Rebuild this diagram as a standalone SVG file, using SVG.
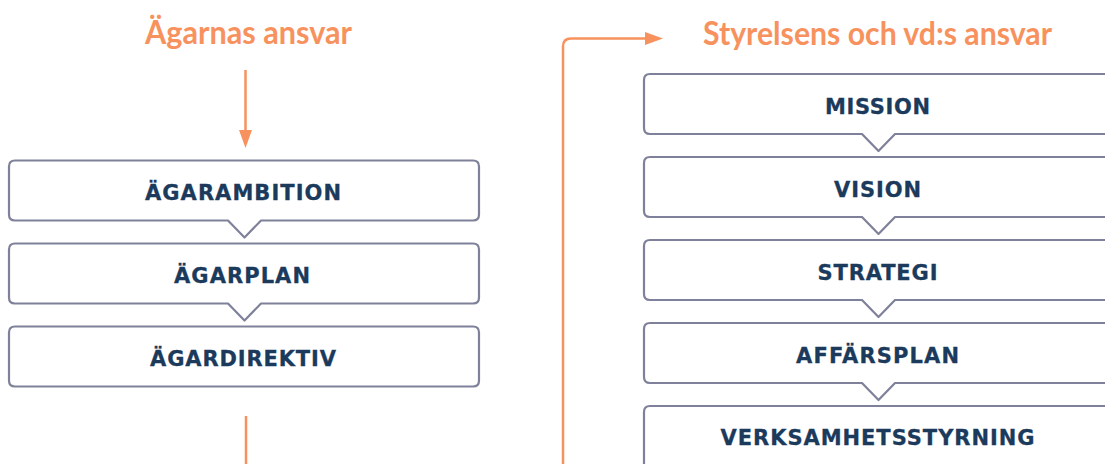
<svg xmlns="http://www.w3.org/2000/svg" width="1105" height="464" viewBox="0 0 1105 464">
  <style>
    .title { font-family: Lato, "Open Sans", "Liberation Sans", sans-serif; font-weight: 700; font-size: 32px; fill: #F7925E; }
    .box { fill: #FFFFFF; stroke: #7E8199; stroke-width: 2.2; stroke-linejoin: round; }
    .label { font-family: "DejaVu Sans", "Liberation Sans", Arial, sans-serif; font-weight: 700; font-size: 21px; fill: #1B3A5C; stroke: #1B3A5C; stroke-width: 0.3; text-anchor: middle; }
    .conn { fill: none; stroke: #F7925E; stroke-width: 2.5; }
  </style>
  <defs>
    <marker id="arrow" markerUnits="userSpaceOnUse" markerWidth="18" markerHeight="14" refX="14" refY="7" orient="auto">
      <path d="M0,0.5 L18,7 L0,13.5 Z" fill="#F7925E"/>
    </marker>
  </defs>
  <rect width="1105" height="464" fill="#FFFFFF"/>

  <g id="title-agare">
    <text class="title" x="145" y="44" textLength="207" lengthAdjust="spacingAndGlyphs">Ägarnas ansvar</text>
  </g>
  <g id="title-styrelse">
    <text class="title" x="703" y="45" textLength="349" lengthAdjust="spacingAndGlyphs">Styrelsens och vd:s ansvar</text>
  </g>

  <g id="connectors">
    <path class="conn" d="M245.5,70 V144" marker-end="url(#arrow)"/>
    <path class="conn" d="M246,416 V466"/>
    <path class="conn" d="M563,466 V46.5 Q563,38.5 571,38.5 H659" marker-end="url(#arrow)"/>
  </g>

  <g id="agarambition">
    <path class="box" d="M15,160.5 H473 Q479,160.5 479,166.5 V214.5 Q479,220.5 473,220.5 H261 L244.5,237.5 L228,220.5 H15 Q9,220.5 9,214.5 V166.5 Q9,160.5 15,160.5 Z"/>
    <text class="label" x="243" y="200" textLength="196" lengthAdjust="spacing">ÄGARAMBITION</text>
  </g>
  <g id="agarplan">
    <path class="box" d="M15,243.5 H473 Q479,243.5 479,249.5 V297.5 Q479,303.5 473,303.5 H261 L244.5,320.5 L228,303.5 H15 Q9,303.5 9,297.5 V249.5 Q9,243.5 15,243.5 Z"/>
    <text class="label" x="242" y="283" textLength="136" lengthAdjust="spacing">ÄGARPLAN</text>
  </g>
  <g id="agardirektiv">
    <path class="box" d="M15,326.5 H473 Q479,326.5 479,332.5 V380.5 Q479,386.5 473,386.5 H15 Q9,386.5 9,380.5 V332.5 Q9,326.5 15,326.5 Z"/>
    <text class="label" x="243" y="366" textLength="186" lengthAdjust="spacing">ÄGARDIREKTIV</text>
  </g>

  <g id="mission">
    <path class="box" d="M650,74 H1106 Q1112,74 1112,80 V128 Q1112,134 1106,134 H895 L878.5,151 L862,134 H650 Q644,134 644,128 V80 Q644,74 650,74 Z"/>
    <text class="label" x="877.5" y="113.5" textLength="105" lengthAdjust="spacing">MISSION</text>
  </g>
  <g id="vision">
    <path class="box" d="M650,157 H1106 Q1112,157 1112,163 V211 Q1112,217 1106,217 H895 L878.5,234 L862,217 H650 Q644,217 644,211 V163 Q644,157 650,157 Z"/>
    <text class="label" x="877.5" y="196.5" textLength="87" lengthAdjust="spacing">VISION</text>
  </g>
  <g id="strategi">
    <path class="box" d="M650,240 H1106 Q1112,240 1112,246 V294 Q1112,300 1106,300 H895 L878.5,317 L862,300 H650 Q644,300 644,294 V246 Q644,240 650,240 Z"/>
    <text class="label" x="877.5" y="279.5" textLength="120" lengthAdjust="spacing">STRATEGI</text>
  </g>
  <g id="affarsplan">
    <path class="box" d="M650,323 H1106 Q1112,323 1112,329 V377 Q1112,383 1106,383 H895 L878.5,400 L862,383 H650 Q644,383 644,377 V329 Q644,323 650,323 Z"/>
    <text class="label" x="877.5" y="362.5" textLength="163" lengthAdjust="spacing">AFFÄRSPLAN</text>
  </g>
  <g id="verksamhetsstyrning">
    <path class="box" d="M650,406 H1106 Q1112,406 1112,412 V470 H644 V412 Q644,406 650,406 Z"/>
    <text class="label" x="877.5" y="445" textLength="314" lengthAdjust="spacing">VERKSAMHETSSTYRNING</text>
  </g>
</svg>
